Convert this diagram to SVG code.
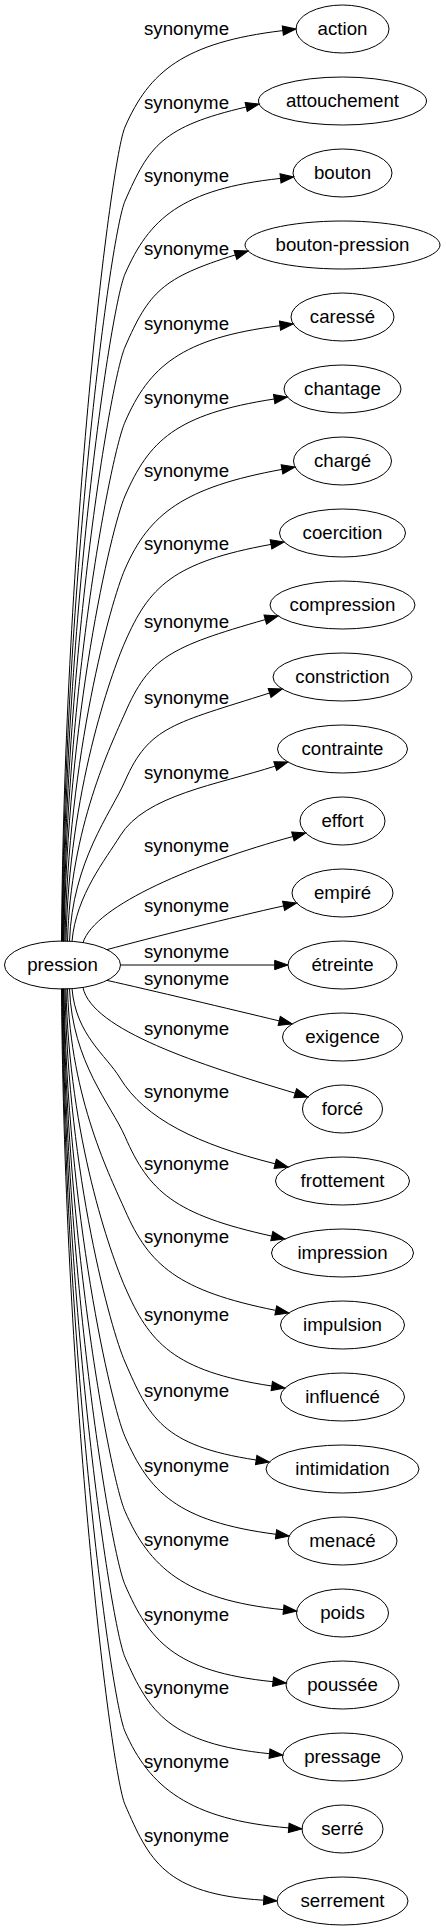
<svg xmlns="http://www.w3.org/2000/svg" width="446" height="1931" viewBox="0 0 446 1931">
<style>
.n ellipse{fill:none;stroke:#000;stroke-width:1}
text{font-family:"Liberation Sans",Arial,sans-serif;font-size:18.67px;text-anchor:middle;fill:#000}
.e path{fill:none;stroke:#000;stroke-width:1;marker-end:url(#ah)}
</style>
<defs>
<marker id="ah" markerWidth="14" markerHeight="10" refX="0" refY="4.67" orient="auto" markerUnits="userSpaceOnUse" overflow="visible"><path d="M0,0 L13.3,4.67 L0,9.33 z" fill="#000" stroke="#000" stroke-width="1"/></marker>
</defs>
<rect width="446" height="1931" fill="#fff"/>
<g id="edges" class="e">
<g id="edge-action"><path d="M61.5,941.4 C64.5,534.2 111,159 125,127 C149,72 183.5,42.4 282.8,30.6"/><text x="186.5" y="35">synonyme</text></g>
<g id="edge-attouchement"><path d="M62,941.4 C65,571.2 111,233 125,201 C149,146 161.9,126.6 246.2,107"/><text x="186.5" y="109">synonyme</text></g>
<g id="edge-bouton"><path d="M62.5,941.4 C65.5,607.7 111,306 125,274 C149,219 181.1,189.1 280.5,178.4"/><text x="186.5" y="182">synonyme</text></g>
<g id="edge-bouton-pression"><path d="M63,941.4 C66,644.2 111,379 125,347 C149,292 162,277.7 235.4,254.9"/><text x="186.5" y="255">synonyme</text></g>
<g id="edge-caresse"><path d="M63.5,941.4 C66.5,681.7 111,454 125,422 C149,367 180.8,338.1 280,325.7"/><text x="186.5" y="330">synonyme</text></g>
<g id="edge-chantage"><path d="M64,941.4 C67,718.7 111,528 125,496 C149,441 175.4,414.2 274.2,399"/><text x="186.5" y="404">synonyme</text></g>
<g id="edge-charge"><path d="M65,941.4 C68,755.2 111,601 125,569 C149,514 183.6,487.3 282,469.4"/><text x="186.5" y="477">synonyme</text></g>
<g id="edge-coercition"><path d="M66,941.4 C69,791.7 111,674 125,642 C149,587 172.6,562.2 271,544.4"/><text x="186.5" y="550">synonyme</text></g>
<g id="edge-compression"><path d="M67.5,941.4 C70.5,827.2 111,745 125,713 C149,658 169.1,647 265.3,619.6"/><text x="186.5" y="628">synonyme</text></g>
<g id="edge-constriction"><path d="M69.5,941.2 C72.5,861.1 111,813 125,781 C149,726 174.3,723.4 269.6,693"/><text x="186.5" y="704">synonyme</text></g>
<g id="edge-contrainte"><path d="M72,941.4 C76,895 106,859 120,836 C145,795 218.1,784.5 275.2,766.1"/><text x="186.5" y="779">synonyme</text></g>
<g id="edge-effort"><path d="M83,942.6 C95,905 196.5,862.9 292.9,836.5"/><text x="186.5" y="852">synonyme</text></g>
<g id="edge-empire"><path d="M107,949.6 C150,938 234.8,916.6 283.6,905.9"/><text x="186.5" y="912">synonyme</text></g>
<g id="edge-etreinte"><path d="M121,965 L274.7,965"/><text x="186.5" y="958">synonyme</text></g>
<g id="edge-exigence"><path d="M107,980.4 C150,990 230.6,1009.2 279.2,1020.9"/><text x="186.5" y="985">synonyme</text></g>
<g id="edge-force"><path d="M83,987.6 C92,1030 199.4,1064.5 295.2,1093.2"/><text x="186.5" y="1035">synonyme</text></g>
<g id="edge-frottement"><path d="M72,988.6 C76,1035 106,1055 120,1078 C145,1119 197.6,1144.4 275.2,1163.8"/><text x="186.5" y="1098">synonyme</text></g>
<g id="edge-impression"><path d="M69.5,988.8 C72.5,1062.7 111,1104.5 125,1136.5 C149,1191.5 174.1,1214.6 271.8,1236.1"/><text x="186.5" y="1170">synonyme</text></g>
<g id="edge-impulsion"><path d="M67.5,988.6 C70.5,1099.4 111,1178.2 125,1210.2 C149,1265.2 177.7,1290.8 275.8,1310.4"/><text x="186.5" y="1243">synonyme</text></g>
<g id="edge-influence"><path d="M66,988.6 C69,1137.8 111,1255 125,1287 C149,1342 172.9,1371.2 271.8,1386"/><text x="186.5" y="1321">synonyme</text></g>
<g id="edge-intimidation"><path d="M65,988.6 C68,1175.3 111,1330 125,1362 C149,1417 161.7,1445.8 256.2,1460"/><text x="186.5" y="1397">synonyme</text></g>
<g id="edge-menace"><path d="M64,988.6 C67,1212.7 111,1404.7 125,1436.7 C149,1491.7 176.8,1521.4 276,1534.3"/><text x="186.5" y="1472">synonyme</text></g>
<g id="edge-poids"><path d="M63.5,988.6 C66.5,1250 111,1479.3 125,1511.3 C149,1566.3 184,1599.7 283.5,1609.7"/><text x="186.5" y="1546">synonyme</text></g>
<g id="edge-poussee"><path d="M63,988.6 C66,1286.7 111,1552.8 125,1584.8 C149,1639.8 173.5,1671.7 273,1681.7"/><text x="186.5" y="1621">synonyme</text></g>
<g id="edge-pressage"><path d="M62.5,988.6 C65.5,1323 111,1625.3 125,1657.3 C149,1712.3 170,1743.7 269.5,1753.7"/><text x="186.5" y="1694">synonyme</text></g>
<g id="edge-serre"><path d="M62,988.6 C65,1360 111,1699.5 125,1731.5 C149,1786.5 189,1819.9 288.7,1827.9"/><text x="186.5" y="1768">synonyme</text></g>
<g id="edge-serrement"><path d="M61.5,988.6 C64.5,1396.6 111,1772.6 125,1804.6 C149,1859.6 164,1894.2 263.7,1900.2"/><text x="186.5" y="1842">synonyme</text></g>
</g>
<g id="nodes" class="n">
<g id="node-pression"><ellipse cx="62.5" cy="965" rx="58" ry="24"/><text x="62.5" y="971">pression</text></g>
<g id="node-action"><ellipse cx="342.5" cy="29" rx="46.5" ry="24"/><text x="342.5" y="35">action</text></g>
<g id="node-attouchement"><ellipse cx="342.5" cy="101" rx="84" ry="24"/><text x="342.5" y="107">attouchement</text></g>
<g id="node-bouton"><ellipse cx="342.5" cy="173" rx="49.5" ry="24"/><text x="342.5" y="179">bouton</text></g>
<g id="node-bouton-pression"><ellipse cx="342.5" cy="245" rx="97.5" ry="24"/><text x="342.5" y="251">bouton-pression</text></g>
<g id="node-caresse"><ellipse cx="342.5" cy="317" rx="51.5" ry="24"/><text x="342.5" y="323">caressé</text></g>
<g id="node-chantage"><ellipse cx="342.5" cy="389" rx="58.5" ry="24"/><text x="342.5" y="395">chantage</text></g>
<g id="node-charge"><ellipse cx="342.5" cy="461" rx="49" ry="24"/><text x="342.5" y="467">chargé</text></g>
<g id="node-coercition"><ellipse cx="342.5" cy="533" rx="63" ry="24"/><text x="342.5" y="539">coercition</text></g>
<g id="node-compression"><ellipse cx="342.5" cy="605" rx="72.5" ry="24"/><text x="342.5" y="611">compression</text></g>
<g id="node-constriction"><ellipse cx="342.5" cy="677" rx="69.5" ry="24"/><text x="342.5" y="683">constriction</text></g>
<g id="node-contrainte"><ellipse cx="342.5" cy="749" rx="65" ry="24"/><text x="342.5" y="755">contrainte</text></g>
<g id="node-effort"><ellipse cx="342.5" cy="821" rx="42.5" ry="24"/><text x="342.5" y="827">effort</text></g>
<g id="node-empire"><ellipse cx="342.5" cy="893" rx="50.5" ry="24"/><text x="342.5" y="899">empiré</text></g>
<g id="node-etreinte"><ellipse cx="342.5" cy="965" rx="54.5" ry="24"/><text x="342.5" y="971">étreinte</text></g>
<g id="node-exigence"><ellipse cx="342.5" cy="1037" rx="60" ry="24"/><text x="342.5" y="1043">exigence</text></g>
<g id="node-force"><ellipse cx="342.5" cy="1109" rx="40" ry="24"/><text x="342.5" y="1115">forcé</text></g>
<g id="node-frottement"><ellipse cx="342.5" cy="1181" rx="67" ry="24"/><text x="342.5" y="1187">frottement</text></g>
<g id="node-impression"><ellipse cx="342.5" cy="1253" rx="71" ry="24"/><text x="342.5" y="1259">impression</text></g>
<g id="node-impulsion"><ellipse cx="342.5" cy="1325" rx="62" ry="24"/><text x="342.5" y="1331">impulsion</text></g>
<g id="node-influence"><ellipse cx="342.5" cy="1397" rx="62" ry="24"/><text x="342.5" y="1403">influencé</text></g>
<g id="node-intimidation"><ellipse cx="342.5" cy="1469" rx="76.5" ry="24"/><text x="342.5" y="1475">intimidation</text></g>
<g id="node-menace"><ellipse cx="342.5" cy="1541" rx="54.5" ry="24"/><text x="342.5" y="1547">menacé</text></g>
<g id="node-poids"><ellipse cx="342.5" cy="1613" rx="46" ry="24"/><text x="342.5" y="1619">poids</text></g>
<g id="node-poussee"><ellipse cx="342.5" cy="1685" rx="56.5" ry="24"/><text x="342.5" y="1691">poussée</text></g>
<g id="node-pressage"><ellipse cx="342.5" cy="1757" rx="60" ry="24"/><text x="342.5" y="1763">pressage</text></g>
<g id="node-serre"><ellipse cx="342.5" cy="1829" rx="40.5" ry="24"/><text x="342.5" y="1835">serré</text></g>
<g id="node-serrement"><ellipse cx="342.5" cy="1901" rx="65.5" ry="24"/><text x="342.5" y="1907">serrement</text></g>
</g>
</svg>
